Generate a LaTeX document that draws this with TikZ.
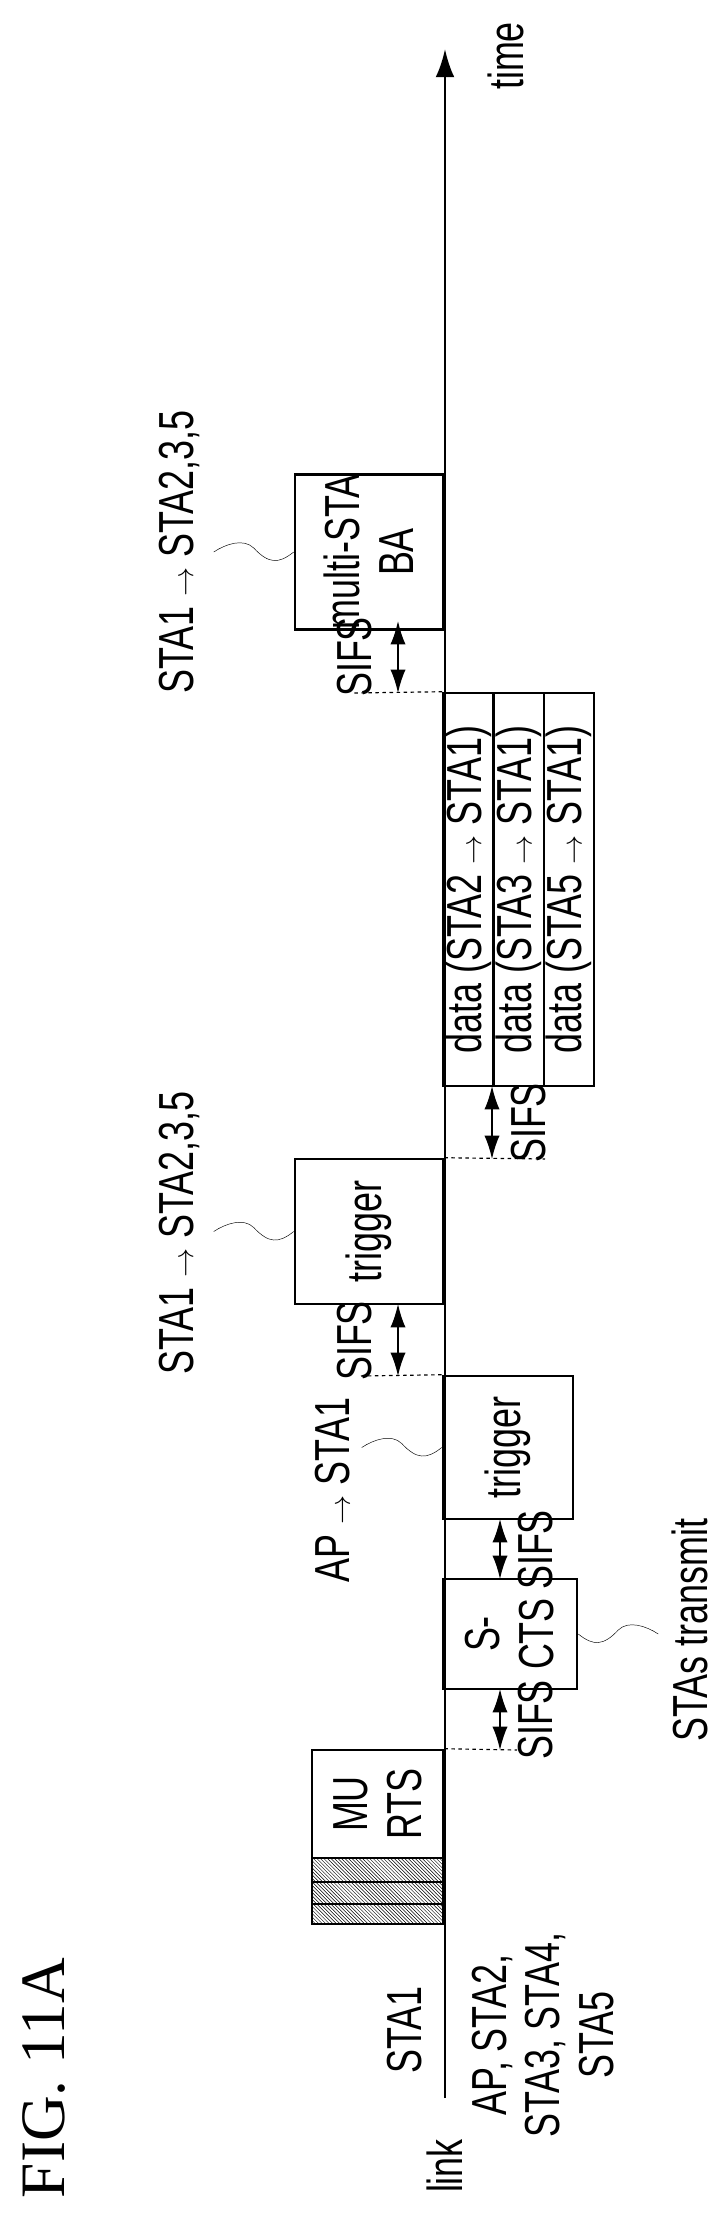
\documentclass[tikz,border=0pt]{standalone}
\usepackage{fontspec}
\setmainfont{Liberation Serif}
\setsansfont{Liberation Sans}[FakeStretch=0.73]
\usetikzlibrary{arrows.meta,patterns}

\newcommand{\pxu}{0.03cm}
\newcommand{\wavy}[2]{%
	\draw [thin,shift={(#1)},xscale=#2] (0,0) .. controls (-15,12) and (-25,12) .. (-40,-4)
		.. controls (-50,-14) and (-68,-8) .. (-80,0);}

\begin{document}
\begin{tikzpicture}[x=0.03cm,y=-0.03cm,font=\sffamily\fontsize{42}{46}\selectfont,
	box/.style={draw,line width=2.2pt,rotate=90,inner sep=0pt,align=center},
	lbl/.style={rotate=90,inner sep=0pt,align=center},
	sifs/.style={{Latex[length=20pt,width=13pt]}-{Latex[length=20pt,width=13pt]},line width=1.3pt},
	gap/.style={dashed,line width=1pt}]

	\useasboundingbox (0,0) rectangle (727,2227);

	% time axis
	\coordinate (t0) at (445,2098);
	\coordinate (t1) at (445,49);
	\draw [line width=2.2pt,-{Latex[length=24pt,width=16pt]}] (t0) -- (t1);
	\node [lbl] (time) at (506,56) {time};

	% frames
	\node [box,minimum width=108*\pxu,minimum height=131*\pxu] (murts) at (377.5,1804) {MU\\RTS};
	\foreach \ya/\yb in {1858/1882, 1882/1904, 1904/1924}
		\draw [line width=2.2pt,pattern=north west lines] (312,\ya) rectangle (443,\yb);
	\node [box,minimum width=110*\pxu,minimum height=134*\pxu] (scts) at (510,1634) {S-\\CTS};
	\node [box,minimum width=143*\pxu,minimum height=130*\pxu] (trigA) at (508,1447.5) {trigger};
	\node [box,minimum width=145*\pxu,minimum height=148*\pxu] (trigB) at (369,1231.5) {trigger};
	\node [box,minimum width=393*\pxu,minimum height=50*\pxu] (dataA) at (468.5,889.5) {data (STA2 $\rightarrow$ STA1)};
	\node [box,minimum width=393*\pxu,minimum height=50*\pxu] (dataB) at (519,889.5) {data (STA3 $\rightarrow$ STA1)};
	\node [box,minimum width=393*\pxu,minimum height=50*\pxu] (dataC) at (569,889.5) {data (STA5 $\rightarrow$ STA1)};
	\node [box,minimum width=138*\pxu,minimum height=148*\pxu] (ba) at (369,552) {multi-STA\\BA};

	% SIFS gaps
	\coordinate (g1) at (517,1750);
	\draw [gap] (murts.south east) -- (g1);
	\draw [sifs] (500,1689) -- (500,1750);
	\node [lbl] (s1) at (536,1720) {SIFS};
	\draw [sifs] (500,1519) -- (500,1579);
	\node [lbl] (s2) at (536,1550) {SIFS};
	\coordinate (g3) at (361,1376);
	\draw [gap] (trigA.north east) -- (g3);
	\draw [sifs] (398,1304) -- (398,1376);
	\node [lbl] (s3) at (355,1341) {SIFS};
	\coordinate (g4) at (545,1159);
	\draw [gap] (trigB.south east) -- (g4);
	\draw [sifs] (492,1086) -- (492,1159);
	\node [lbl] (s4) at (529,1123) {SIFS};
	\coordinate (g5) at (354,693);
	\draw [gap] (dataA.north east) -- (g5);
	\draw [sifs] (398,621) -- (398,693);
	\node [lbl] (s5) at (355,657) {SIFS};

	% labels
	\node [lbl] (lab1) at (179,552) {STA1 $\rightarrow$ STA2,3,5};
	\node [lbl] (lab2) at (179,1233) {STA1 $\rightarrow$ STA2,3,5};
	\node [lbl] (lab3) at (333,1490) {AP $\rightarrow$ STA1};
	\node [lbl] (lab4) at (690,1630) {STAs transmit};
	\wavy{ba.north}{1}
	\wavy{trigB.north}{1}
	\wavy{trigA.north}{1}
	\wavy{scts.south}{-1}

	% link
	\node [lbl] (sta1) at (405,2030) {STA1};
	\node [lbl] (link) at (445,2166) {link};
	\node [lbl] (stas) at (543,2035) {AP, STA2,\\STA3, STA4,\\STA5};
	\node [lbl,font=\rmfamily\fontsize{54}{60}\selectfont] (fig) at (44,2078) {FIG. 11A};
\end{tikzpicture}
\end{document}
